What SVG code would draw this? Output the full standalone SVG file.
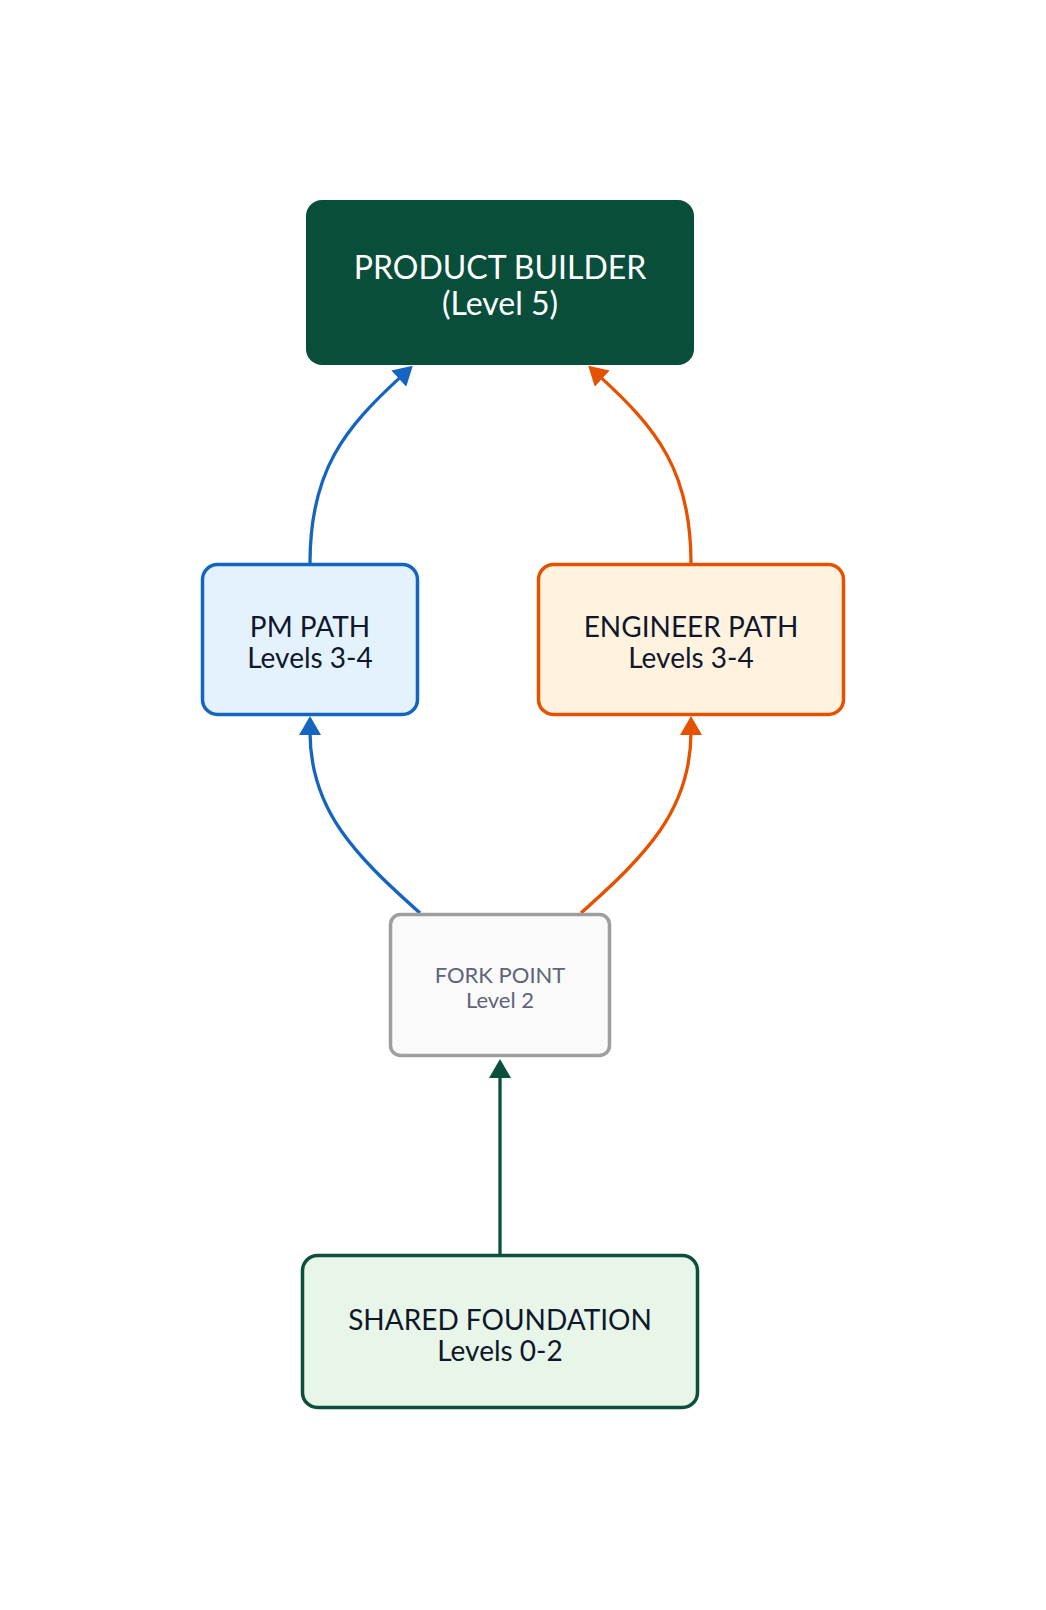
<svg xmlns="http://www.w3.org/2000/svg" width="1046" height="1610" viewBox="0 0 1046 1610">
  <style>
    .lbl { font-family: Lato, "Noto Sans", "Liberation Sans", sans-serif; text-anchor: middle; }
    .big { font-size: 32px; fill: #ffffff; }
    .mid { font-size: 28px; fill: #0F172A; }
    .small { font-size: 22px; fill: #5E6479; }
    .edge { fill: none; stroke-width: 3.3; }
  </style>
  <defs>
    <marker id="ah-blue" markerUnits="userSpaceOnUse" markerWidth="19" markerHeight="22" refX="3" refY="11" orient="auto">
      <path d="M0,0 L19,11 L0,22 z" fill="#1565C0"/>
    </marker>
    <marker id="ah-orange" markerUnits="userSpaceOnUse" markerWidth="19" markerHeight="22" refX="3" refY="11" orient="auto">
      <path d="M0,0 L19,11 L0,22 z" fill="#E65100"/>
    </marker>
    <marker id="ah-green" markerUnits="userSpaceOnUse" markerWidth="19" markerHeight="22" refX="3" refY="11" orient="auto">
      <path d="M0,0 L19,11 L0,22 z" fill="#0B4F3C"/>
    </marker>
  </defs>
  <rect width="1046" height="1610" fill="#ffffff"/>

  <g id="connectors">
    <path class="edge" d="M310,563 C310,470 345,428 401,376.6" stroke="#1565C0" marker-end="url(#ah-blue)"/>
    <path class="edge" d="M691,563 C691,470 656,428 600,376.6" stroke="#E65100" marker-end="url(#ah-orange)"/>
    <path class="edge" d="M420,913 C355,855 310,810 310,732" stroke="#1565C0" marker-end="url(#ah-blue)"/>
    <path class="edge" d="M581,913 C646,855 691,810 691,732" stroke="#E65100" marker-end="url(#ah-orange)"/>
    <path class="edge" d="M500,1254 L500,1075" stroke="#0B4F3C" marker-end="url(#ah-green)"/>
  </g>

  <g id="product-builder">
    <rect x="306" y="200" width="388" height="165" rx="16" fill="#084E3B"/>
    <text class="lbl big" x="500" y="279">PRODUCT BUILDER</text>
    <text class="lbl big" x="500" y="315">(Level 5)</text>
  </g>

  <g id="pm-path">
    <rect x="202.5" y="564.5" width="215" height="150" rx="15" fill="#E3F2FD" stroke="#1565C0" stroke-width="3.5"/>
    <text class="lbl mid" x="310" y="637">PM PATH</text>
    <text class="lbl mid" x="310" y="668">Levels 3-4</text>
  </g>

  <g id="engineer-path">
    <rect x="538.5" y="564.5" width="305" height="150" rx="15" fill="#FFF3E0" stroke="#E65100" stroke-width="3.5"/>
    <text class="lbl mid" x="691" y="637">ENGINEER PATH</text>
    <text class="lbl mid" x="691" y="668">Levels 3-4</text>
  </g>

  <g id="fork-point">
    <rect x="390.5" y="914.5" width="219" height="141" rx="10" fill="#FAFAFA" stroke="#9E9E9E" stroke-width="3.5"/>
    <text class="lbl small" x="500" y="983">FORK POINT</text>
    <text class="lbl small" x="500" y="1008">Level 2</text>
  </g>

  <g id="shared-foundation">
    <rect x="302.5" y="1255.5" width="395" height="152" rx="15" fill="#E8F5E9" stroke="#0B4F3C" stroke-width="3.5"/>
    <text class="lbl mid" x="500" y="1330">SHARED FOUNDATION</text>
    <text class="lbl mid" x="500" y="1361">Levels 0-2</text>
  </g>
</svg>
